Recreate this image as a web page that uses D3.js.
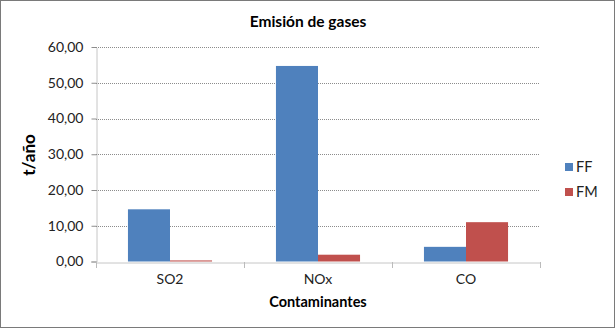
<!DOCTYPE html>
<html><head><meta charset="utf-8">
<script src="https://cdn.jsdelivr.net/npm/d3@7"></script>
<style>body{margin:0;background:#fff;} text{font-family:Lato,"Open Sans",sans-serif;}</style>
</head><body>
<svg id="c" width="615" height="328"></svg>
<script>
const categories = ["SO2", "NOx", "CO"];
const seriesNames = ["FF", "FM"];
const ffValues = [14.6, 54.7, 4.1];
const fmValues = [0.3, 1.9, 11.0];
const yTicks = [0, 10, 20, 30, 40, 50, 60];
const colors = ["#4F81BD", "#C0504D"];
const title = "Emisión de gases";
const yTitle = "t/año";
const xTitle = "Contaminantes";

const svg = d3.select("#c");
svg.append("rect").attr("x",0.5).attr("y",0.5).attr("width",614).attr("height",327)
  .attr("fill","#fff").attr("stroke","#7a7a7a").attr("stroke-width",1);

const L = 96, R = 540, T = 47, B = 261.5;
const x = d3.scaleBand().domain(categories).range([L, R]).paddingInner(0).paddingOuter(0);
const x1 = d3.scaleBand().domain(seriesNames).range([0, x.bandwidth()]).paddingInner(0).paddingOuter(0.76);
const y = d3.scaleLinear().domain([0, 60]).range([B, T]);
const fmt = v => d3.format(".2f")(v).replace(".", ",");

// gridlines
svg.append("g").selectAll("line").data(yTicks.filter(d=>d>0)).join("line")
  .attr("x1", L).attr("x2", R).attr("y1", d=>Math.round(y(d))+0.5).attr("y2", d=>Math.round(y(d))+0.5)
  .attr("stroke", "#8c8c8c").attr("stroke-dasharray","1,1");

// bars
const data = categories.map((c,i)=>({c, vals:[ffValues[i], fmValues[i]]}));
const g = svg.append("g");
data.forEach(d=>{
  d.vals.forEach((v,j)=>{
    g.append("rect").attr("x", x(d.c)+x1(seriesNames[j])).attr("width", x1.bandwidth())
     .attr("y", y(v)).attr("height", y(0)-y(v)).attr("fill", colors[j]);
  });
});

// y axis
const ya = svg.append("g").attr("transform",`translate(${L+0.5},0)`)
  .call(d3.axisLeft(y).tickValues(yTicks).tickFormat(fmt).tickSize(5).tickPadding(8));
ya.select(".domain").attr("stroke","#8c8c8c").attr("stroke-dasharray","1,1");
ya.selectAll(".tick line").attr("stroke","#8c8c8c");
ya.selectAll("text").attr("font-size",14).attr("fill","#222").style("font-family","Lato");

// x axis
const xa = svg.append("g").attr("transform",`translate(0,${Math.round(B)+0.5})`)
  .call(d3.axisBottom(x).tickSize(0).tickPadding(12));
xa.select(".domain").attr("stroke","#8c8c8c").attr("stroke-dasharray","1,1");
xa.selectAll("text").attr("font-size",14).attr("fill","#222").style("font-family","Lato");
svg.append("g").selectAll("line").data(d3.range(categories.length+1)).join("line")
  .attr("x1", i=>Math.round(L + i*x.bandwidth())+0.5).attr("x2", i=>Math.round(L + i*x.bandwidth())+0.5)
  .attr("y1", Math.round(B)).attr("y2", Math.round(B)+6).attr("stroke","#bbb");

// titles
svg.append("text").attr("x",308).attr("y",27).attr("text-anchor","middle")
  .attr("font-size",15.5).attr("font-weight","bold").attr("fill","#000").text(title);
svg.append("text").attr("transform",`translate(35,155) rotate(-90)`).attr("text-anchor","middle")
  .attr("font-size",17).attr("font-weight","bold").attr("fill","#000").text(yTitle);
svg.append("text").attr("x",318).attr("y",307).attr("text-anchor","middle")
  .attr("font-size",14.5).attr("font-weight","bold").attr("fill","#000").text(xTitle);

// legend
const lg = svg.append("g");
seriesNames.forEach((s,i)=>{
  const yy = 167 + i*25;
  lg.append("rect").attr("x",565).attr("y",yy-4).attr("width",8).attr("height",8).attr("fill",colors[i]);
  lg.append("text").attr("x",576).attr("y",yy+5).attr("font-size",14.5).attr("fill","#222").text(s);
});
</script>
</body></html>
